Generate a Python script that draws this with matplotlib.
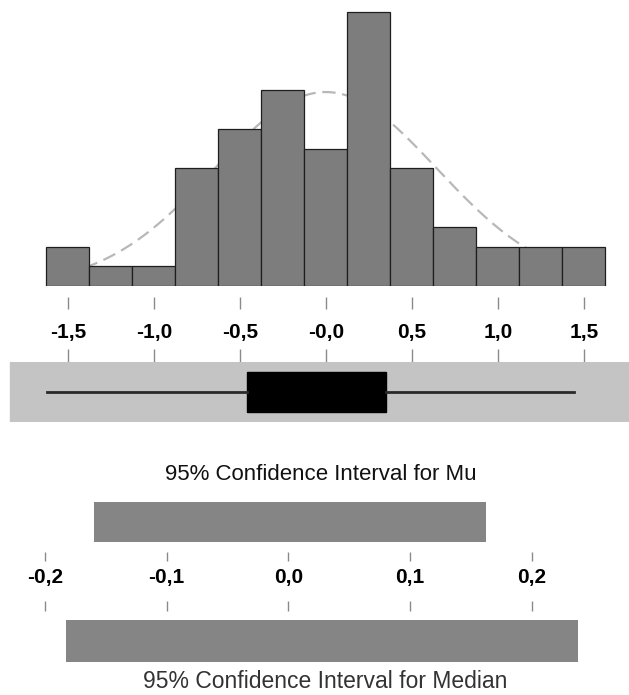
import numpy as np
import matplotlib
matplotlib.use("Agg")
import matplotlib.pyplot as plt

plt.rcParams['font.family'] = ['Liberation Sans', 'DejaVu Sans']

# histogram data (counts per bin of width 0.25)
bin_centers = [-1.5, -1.25, -1.0, -0.75, -0.5, -0.25, 0.0, 0.25, 0.5, 0.75, 1.0, 1.25, 1.5]
bin_counts = [2, 1, 1, 6, 8, 10, 7, 14, 6, 3, 2, 2, 2]
bin_width = 0.25

# fitted normal curve parameters
normal_mean = 0.0
normal_sd = 0.645

# boxplot summary
box_q1 = -0.458
box_median = 0.13
box_q3 = 0.35
whisker_low = -1.62
whisker_high = 1.444
band_range = (-1.835, 1.77)

main_ticks = [-1.5, -1.0, -0.5, 0.0, 0.5, 1.0, 1.5]
main_labels = ['-1,5', '-1,0', '-0,5', '-0,0', '0,5', '1,0', '1,5']

# confidence intervals
ci_mu = (-0.160, 0.162)
ci_median = (-0.183, 0.238)
ci_ticks = [-0.2, -0.1, 0.0, 0.1, 0.2]
ci_labels = ['-0,2', '-0,1', '0,0', '0,1', '0,2']

W, H = 629, 695
MAIN_XLIM = (-1.894, 1.763)
CI_XLIM = (-0.2368, 0.2796)

fig = plt.figure(figsize=(W / 100, H / 100), dpi=100)


def rect(top_px, bottom_px):
    # full-width axes between two pixel rows
    return [0, 1 - bottom_px / H, 1, (bottom_px - top_px) / H]


def scale_row(top_px, bottom_px, xlim, ticks, labels, len_top, len_bot, label_frac):
    ax = fig.add_axes(rect(top_px, bottom_px))
    ax.set_xlim(xlim)
    ax.set_ylim(0, 1)
    ax.patch.set_visible(False)
    for s in ax.spines.values():
        s.set_visible(False)
    ax.set_yticks([])
    ax.set_xticks(ticks)
    ax.tick_params(axis='x', top=True, bottom=True, direction='in',
                   length=len_top * 0.72, width=1, color='#8a8a8a',
                   labelbottom=False)
    for t in ax.xaxis.get_major_ticks():
        t.tick1line.set_markersize(len_bot * 0.72)
    for x, lab in zip(ticks, labels):
        ax.text(x, label_frac, lab, ha='center', va='center',
                fontsize=15, fontweight='bold')
    return ax


# --- histogram ---
ax_h = fig.add_axes(rect(0, 286))
ax_h.set_xlim(MAIN_XLIM)
ax_h.set_ylim(0, 286 / 19.6)
lo = bin_centers[0] - bin_width / 2
hi = bin_centers[-1] + bin_width / 2
xs = np.linspace(lo, hi, 300)
curve = sum(bin_counts) * bin_width / (normal_sd * np.sqrt(2 * np.pi)) \
    * np.exp(-0.5 * ((xs - normal_mean) / normal_sd) ** 2)
ax_h.plot(xs, curve, ls=(0, (6, 3)), color='#b8b8b8', lw=1.6, zorder=1)
ax_h.bar(bin_centers, bin_counts, width=bin_width, color='#7d7d7d',
         edgecolor='#1e1e1e', linewidth=0.9, zorder=2)
ax_h.axis('off')

# --- scale between histogram and boxplot ---
scale_row(297, 362, MAIN_XLIM, main_ticks, main_labels, 12, 13, 0.46)

# --- boxplot band ---
ax_b = fig.add_axes(rect(362, 422))
ax_b.set_xlim(MAIN_XLIM)
ax_b.set_ylim(0, 1)
ax_b.axvspan(band_range[0], band_range[1], color='#c4c4c4', zorder=0)
stats = [dict(med=box_median, q1=box_q1, q3=box_q3,
              whislo=whisker_low, whishi=whisker_high, fliers=[])]
ax_b.bxp(stats, positions=[0.5], widths=0.68, vert=False, patch_artist=True,
         showcaps=False, showfliers=False,
         boxprops=dict(facecolor='black', edgecolor='black'),
         whiskerprops=dict(color='#2a2a2a', lw=2),
         medianprops=dict(color='black'))
ax_b.axis('off')

# --- confidence intervals ---
fig.text(321 / W, 1 - 475 / H, '95% Confidence Interval for Mu',
         ha='center', va='center', fontsize=16, color='#111111')

ax_c = fig.add_axes(rect(490, 670))
ax_c.set_xlim(CI_XLIM)
ax_c.set_ylim(1.245, -0.266)
ax_c.barh([0], [ci_mu[1] - ci_mu[0]], left=[ci_mu[0]], height=0.336, color='#858585')
ax_c.barh([1], [ci_median[1] - ci_median[0]], left=[ci_median[0]], height=0.35,
          color='#858585')
ax_c.axis('off')

scale_row(552, 611, CI_XLIM, ci_ticks, ci_labels, 9, 10, 0.576)

fig.text(325 / W, 1 - 682 / H, '95% Confidence Interval for Median',
         ha='center', va='center', fontsize=16.5, color='#333333')

fig.savefig('out.png', dpi=100, facecolor='white')
